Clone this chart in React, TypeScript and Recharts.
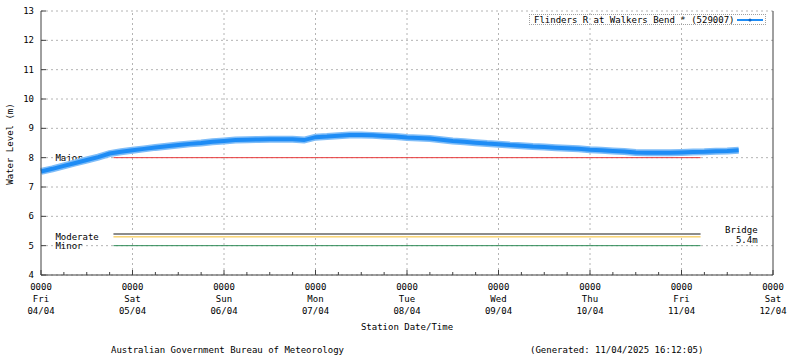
import React from 'react';
import {
  LineChart, Line, XAxis, YAxis, CartesianGrid, ReferenceLine
} from 'recharts';

// hours since 04/04 00:00, 3-hourly samples
const HOURS = [
  0, 3, 6, 9, 12, 15, 18, 21, 24, 27, 30, 33, 36, 39, 42, 45, 48, 51, 54, 57,
  60, 63, 66, 69, 72, 75, 78, 81, 84, 87, 90, 93, 96, 99, 102, 105, 108, 111, 114, 117,
  120, 123, 126, 129, 132, 135, 138, 141, 144, 147, 150, 153, 156, 159, 162, 165, 168, 171, 174, 177,
  180, 183,
];
const LEVELS = [
  7.53, 7.62, 7.72, 7.82, 7.92, 8.02, 8.14, 8.2, 8.25, 8.3, 8.35, 8.39, 8.43, 8.47, 8.5, 8.54, 8.57, 8.6, 8.61, 8.62,
  8.63, 8.63, 8.63, 8.6, 8.7, 8.72, 8.75, 8.77, 8.77, 8.76, 8.74, 8.72, 8.69, 8.67, 8.65, 8.61, 8.57, 8.54, 8.51, 8.48,
  8.46, 8.43, 8.41, 8.38, 8.36, 8.34, 8.32, 8.3, 8.27, 8.25, 8.23, 8.21, 8.18, 8.17, 8.17, 8.17, 8.18, 8.19, 8.2, 8.22,
  8.23, 8.25,
];

const X_TICKS = [
  0, 6, 12, 18, 24, 30, 36, 42, 48, 54, 60, 66, 72, 78, 84, 90, 96,
  102, 108, 114, 120, 126, 132, 138, 144, 150, 156, 162, 168, 174, 180, 186, 192,
];
const DAY_TICKS = [0, 24, 48, 72, 96, 120, 144, 168, 192];
const DAY_NAMES = ['Fri', 'Sat', 'Sun', 'Mon', 'Tue', 'Wed', 'Thu', 'Fri', 'Sat'];
const DAY_DATES = ['04/04', '05/04', '06/04', '07/04', '08/04', '09/04', '10/04', '11/04', '12/04'];
const Y_TICKS = [4, 5, 6, 7, 8, 9, 10, 11, 12, 13];

// flood classification levels, drawn between these hours
const THRESHOLDS = [
  { name: 'Major', level: 8, color: '#e8393b', width: 1 },
  { name: 'Bridge', level: 5.4, color: '#8c8c8c', width: 2 },
  { name: 'Moderate', level: 5.3, color: '#f5bd2c', width: 1 },
  { name: 'Minor', level: 5.0, color: '#2e8b57', width: 1 },
];
const THRESH_FROM = 19;
const THRESH_TO = 173;

const DATA = HOURS.map((h, i) => ({ h, level: LEVELS[i] }));

const FONT = '"DejaVu Sans Mono", monospace';
const AXIS = '#404040';
const GRID = '#b4b4b4';
const BLUE = '#1e8cf5';

const XTick = ({ x, y, payload }: any) => {
  const v = payload.value;
  const idx = DAY_TICKS.indexOf(v);
  const major = idx >= 0;
  return (
    <g>
      <line x1={x} x2={x} y1={y} y2={y - (major ? 5 : 3)} stroke={AXIS} />
      {major && (
        <text x={x} y={y} textAnchor="middle" fontFamily={FONT} fontSize={9} fill="#000">
          <tspan x={x} dy={15}>0000</tspan>
          <tspan x={x} dy={12}>{DAY_NAMES[idx]}</tspan>
          <tspan x={x} dy={12}>{DAY_DATES[idx]}</tspan>
        </text>
      )}
    </g>
  );
};

const YTickLeft = ({ x, y, payload }: any) => (
  <g>
    <line x1={x} x2={x + 5} y1={y} y2={y} stroke={AXIS} />
    <text x={x - 7} y={y + 3} textAnchor="end" fontFamily={FONT} fontSize={9} fill="#000">{payload.value}</text>
  </g>
);

const YTickRight = ({ x, y }: any) => (
  <line x1={x} x2={x - 5} y1={y} y2={y} stroke={AXIS} />
);

const ThresholdLabel = ({ viewBox, name, level }: any) => {
  if (!viewBox) return null;
  const style = { fontFamily: FONT, fontSize: 9, fill: '#000' };
  if (name === 'Bridge') {
    const rx = viewBox.x + viewBox.width + 57;
    return (
      <g>
        <text x={rx} y={viewBox.y - 1} textAnchor="end" style={style}>Bridge</text>
        <text x={rx} y={viewBox.y + 9} textAnchor="end" style={style}>{`${level}m`}</text>
      </g>
    );
  }
  return (
    <text x={viewBox.x - 58} y={viewBox.y + 3} textAnchor="start" style={style}>{name}</text>
  );
};

const txt: React.CSSProperties = {
  position: 'absolute', fontFamily: FONT, fontSize: 9, color: '#000', whiteSpace: 'pre', lineHeight: '10px',
};

export default function App() {
  return (
    <div style={{ position: 'absolute', left: 0, top: 0, width: 800, height: 358, background: '#fff' }}>
      <LineChart width={800} height={358} data={DATA} margin={{ top: 11, right: 0, left: 0, bottom: 0 }}>
        <CartesianGrid horizontal vertical={false} stroke={GRID} strokeDasharray="2 3" />
        {DAY_TICKS.slice(1, -1).map((d) => (
          <ReferenceLine key={`v-${d}`} x={d} stroke={GRID} strokeDasharray="2 3" />
        ))}
        <XAxis
          dataKey="h" type="number" domain={[0, 192]} ticks={X_TICKS} interval={0}
          height={83} tickSize={0} tickMargin={0} tick={<XTick />} tickLine={false}
          axisLine={{ stroke: AXIS }}
        />
        <XAxis
          xAxisId="top" orientation="top" dataKey="h" type="number" domain={[0, 192]}
          height={0} tick={false} tickLine={false} axisLine={{ stroke: AXIS }}
        />
        <YAxis
          type="number" domain={[4, 13]} ticks={Y_TICKS} interval={0} width={41}
          tickSize={0} tickMargin={0} tick={<YTickLeft />} tickLine={false} axisLine={{ stroke: AXIS }}
        />
        <YAxis
          yAxisId="right" orientation="right" type="number" domain={[4, 13]} ticks={Y_TICKS} interval={0}
          width={27} tickSize={0} tickMargin={0} tick={<YTickRight />} tickLine={false} axisLine={{ stroke: AXIS }}
        />
        {THRESHOLDS.map((t) => (
          <ReferenceLine
            key={t.name}
            segment={[{ x: THRESH_FROM, y: t.level }, { x: THRESH_TO, y: t.level }]}
            stroke={t.color}
            strokeWidth={t.width}
            ifOverflow="extendDomain"
            label={<ThresholdLabel name={t.name} level={t.level} />}
          />
        ))}
        {/* soft halo mimics the scatter of the raw readings */}
        <Line
          type="linear" dataKey="level" stroke="#7fbdf8" strokeWidth={7}
          dot={false} isAnimationActive={false} legendType="none"
        />
        <Line
          type="linear" dataKey="level" stroke={BLUE} strokeWidth={4}
          dot={false} isAnimationActive={false}
        />
      </LineChart>

      {/* legend */}
      <div style={{
        position: 'absolute', left: 529, top: 14, width: 237, height: 11,
        border: '1px dotted #a0a0a0', boxSizing: 'border-box',
      }} />
      <div style={{ ...txt, left: 534, top: 15 }}>Flinders R at Walkers Bend * (529007)</div>
      <svg style={{ position: 'absolute', left: 736, top: 15 }} width={28} height={10}>
        <line x1={1} x2={27} y1={5} y2={5} stroke={BLUE} strokeWidth={2} />
        <circle cx={14} cy={5} r={1.5} fill="#1060c0" />
      </svg>

      <div style={{
        ...txt, left: 10, top: 144, transform: 'translate(-50%,-50%) rotate(-90deg)',
      }}>Water Level (m)</div>
      <div style={{ ...txt, left: 407, top: 322, transform: 'translateX(-50%)' }}>Station Date/Time</div>
      <div style={{ ...txt, left: 111, top: 345 }}>Australian Government Bureau of Meteorology</div>
      <div style={{ ...txt, left: 530, top: 345 }}>(Generated: 11/04/2025 16:12:05)</div>
    </div>
  );
}
